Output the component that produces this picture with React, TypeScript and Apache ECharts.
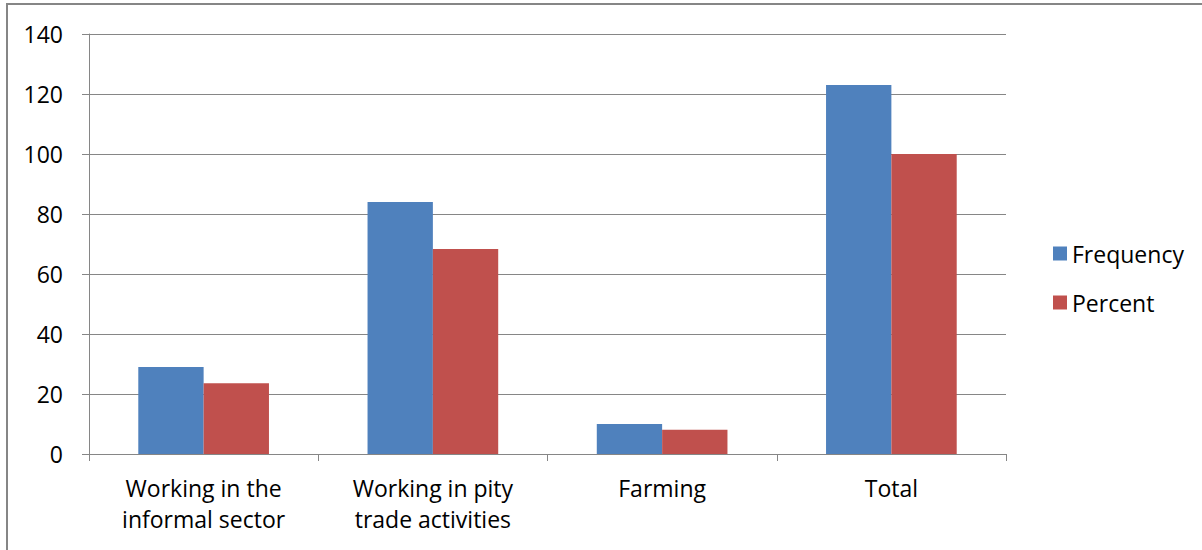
import React, { useEffect, useRef } from "react";
import * as echarts from "echarts";

const categories = [
  "Working in the\ninformal sector",
  "Working in pity\ntrade activities",
  "Farming",
  "Total",
];
const frequency = [29, 84, 10, 123];
const percent = [23.6, 68.3, 8.1, 100];
const yTicks = { min: 0, max: 140, interval: 20 };

export default function App() {
  const ref = useRef<HTMLDivElement>(null);
  useEffect(() => {
    document.body.style.margin = "0";
    const chart = echarts.init(ref.current!, null, { renderer: "svg" });
    const font = "'Open Sans', sans-serif";
    chart.setOption({
      animation: false,
      backgroundColor: "#ffffff",
      textStyle: { fontFamily: font },
      graphic: [
        {
          type: "rect",
          shape: { x: 7, y: 4, width: 1300, height: 700 },
          style: { fill: "none", stroke: "#868686", lineWidth: 2 },
          silent: true,
        },
      ],
      grid: { left: 89, top: 34, width: 917, height: 420, containLabel: false },
      legend: {
        orient: "vertical",
        left: 1048,
        top: 234,
        itemWidth: 14,
        itemHeight: 14,
        itemGap: 20,
        icon: "rect",
        textStyle: { fontSize: 23, color: "#000", fontFamily: font, lineHeight: 29 },
        data: ["Frequency", "Percent"],
      },
      xAxis: {
        type: "category",
        data: categories,
        axisLine: { lineStyle: { color: "#868686", width: 1 } },
        axisTick: { show: true, length: 7, lineStyle: { color: "#868686" } },
        axisLabel: {
          fontSize: 23,
          color: "#000",
          lineHeight: 31,
          margin: 18,
          fontFamily: font,
        },
      },
      yAxis: {
        type: "value",
        min: yTicks.min,
        max: yTicks.max,
        interval: yTicks.interval,
        axisLine: { show: true, lineStyle: { color: "#868686" } },
        axisTick: { show: true, length: 7, lineStyle: { color: "#868686" } },
        splitLine: { lineStyle: { color: "#868686", width: 1 } },
        axisLabel: { fontSize: 23, color: "#000", margin: 26, fontFamily: font },
      },
      series: [
        {
          name: "Frequency",
          type: "bar",
          data: frequency,
          barGap: "0%",
          barCategoryGap: "43%",
          itemStyle: { color: "#4F81BD" },
        },
        {
          name: "Percent",
          type: "bar",
          data: percent,
          barGap: "0%",
          barCategoryGap: "43%",
          itemStyle: { color: "#C0504D" },
        },
      ],
    });
    return () => chart.dispose();
  }, []);
  return (
    <div
      ref={ref}
      style={{ position: "absolute", left: 0, top: 0, width: 1202, height: 550 }}
    />
  );
}
